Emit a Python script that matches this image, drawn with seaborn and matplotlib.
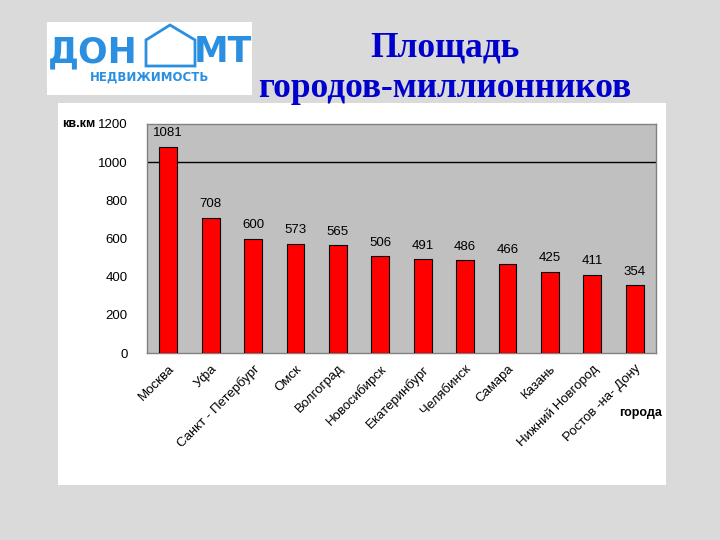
import matplotlib
matplotlib.use("Agg")
import matplotlib.pyplot as plt
import matplotlib.patches as mpatches
import pandas as pd
import seaborn as sns

cities = ["Москва", "Уфа", "Санкт - Петербург", "Омск", "Волгоград", "Новосибирск",
          "Екатеринбург", "Челябинск", "Самара", "Казань", "Нижний Новгород", "Ростов -на- Дону"]
area_km2 = [1081, 708, 600, 573, 565, 506, 491, 486, 466, 425, 411, 354]
y_ticks = [0, 200, 400, 600, 800, 1000, 1200]

df = pd.DataFrame({"city": cities, "area": area_km2})

sns.set_theme(style="white")
plt.rcParams["font.family"] = ["Liberation Sans", "DejaVu Sans"]
plt.rcParams["text.color"] = "black"
plt.rcParams["xtick.color"] = "black"
plt.rcParams["ytick.color"] = "black"

fig = plt.figure(figsize=(7.2, 5.4), dpi=100)
fig.patch.set_facecolor("#dadada")

# white slide panel behind the chart
fig.patches.append(mpatches.Rectangle((58 / 720, 1 - 485 / 540), 608 / 720, 382 / 540,
                                      transform=fig.transFigure, facecolor="white",
                                      edgecolor="none", zorder=-10))

# logo box
fig.patches.append(mpatches.Rectangle((47 / 720, 1 - 95 / 540), 205 / 720, 73 / 540,
                                      transform=fig.transFigure, facecolor="white",
                                      edgecolor="none", zorder=-10))
logo_blue = "#2a8fe0"
fig.text(93 / 720, 1 - 52 / 540, "ДОН", color=logo_blue, fontsize=25, fontweight="bold",
         ha="center", va="center", family=["DejaVu Sans"])
fig.text(223 / 720, 1 - 52 / 540, "МТ", color=logo_blue, fontsize=25, fontweight="bold",
         ha="center", va="center", family=["DejaVu Sans"])
fig.patches.append(mpatches.Polygon([(146 / 720, 1 - 66 / 540), (146 / 720, 1 - 40 / 540),
                                     (170 / 720, 1 - 25 / 540), (195 / 720, 1 - 40 / 540),
                                     (195 / 720, 1 - 66 / 540)],
                                    closed=True, transform=fig.transFigure,
                                    facecolor="none", edgecolor=logo_blue, linewidth=2))
fig.text(150 / 720, 1 - 77 / 540, "НЕДВИЖИМОСТЬ", color=logo_blue, fontsize=8.5,
         fontweight="bold", ha="center", va="center", family=["DejaVu Sans"])

# title
title_kw = dict(color="#0000cc", fontsize=25.5, fontweight="bold", ha="center", va="center",
                family=["Liberation Serif", "DejaVu Serif"])
fig.text(445 / 720, 1 - 48 / 540, "Площадь", **title_kw)
fig.text(445 / 720, 1 - 89 / 540, "городов-миллионников", **title_kw)

ax = fig.add_axes([147 / 720, 1 - 353 / 540, 509 / 720, 229 / 540])
ax.set_facecolor("#c0c0c0")

sns.barplot(data=df, x="city", y="area", color="#ff0000", width=0.42,
            edgecolor="black", linewidth=0.8, saturation=1, ax=ax, zorder=3)

ax.set_ylim(0, 1200)
ax.set_yticks(y_ticks)
ax.axhline(1000, color="black", linewidth=1, zorder=2)

for i, v in enumerate(area_km2):
    ax.text(i, v + 40, str(v), ha="center", va="bottom", fontsize=9.5, color="black")

ax.set_xlabel("")
ax.set_ylabel("")
ax.tick_params(axis="y", labelsize=9.5, length=0, pad=14)
ax.tick_params(axis="x", labelsize=9.5, length=0, pad=7)
for lbl in ax.get_xticklabels():
    lbl.set_rotation(45)
    lbl.set_ha("right")
    lbl.set_rotation_mode("anchor")

for side in ["top", "right", "left", "bottom"]:
    ax.spines[side].set_color("#808080")
    ax.spines[side].set_linewidth(1)

fig.text(79 / 720, 1 - 124 / 540, "кв.км", fontsize=9, fontweight="bold",
         ha="center", va="center")
fig.text(641 / 720, 1 - 413 / 540, "города", fontsize=9, fontweight="bold",
         ha="center", va="center")

fig.savefig("out.png", dpi=100, facecolor=fig.get_facecolor())
